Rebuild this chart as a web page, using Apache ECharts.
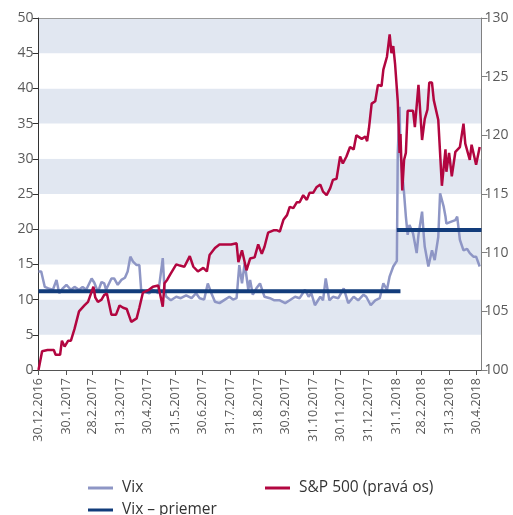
<!DOCTYPE html>
<html>
<head>
<meta charset="utf-8">
<script src="https://cdn.jsdelivr.net/npm/echarts@6/dist/echarts.min.js"></script>
<style>
  html, body { margin: 0; padding: 0; background: #fff; }
  #chart { width: 513px; height: 515px; }
</style>
</head>
<body>
<div id="chart"></div>
<script>
// month-end dates shown on the x axis
var tickDates = ['2016-12-30', '2017-01-30', '2017-02-28', '2017-03-31', '2017-04-30', '2017-05-31',
  '2017-06-30', '2017-07-31', '2017-08-31', '2017-09-30', '2017-10-31', '2017-11-30', '2017-12-31',
  '2018-01-31', '2018-02-28', '2018-03-31', '2018-04-30'];

// Vix (left axis)
var vixDates = ['2016-12-30', '2017-01-02', '2017-01-06', '2017-01-10', '2017-01-15', '2017-01-19', '2017-01-22',
  '2017-01-26', '2017-01-30', '2017-02-04', '2017-02-08', '2017-02-13', '2017-02-17', '2017-02-21', '2017-02-27',
  '2017-03-02', '2017-03-06', '2017-03-10', '2017-03-13', '2017-03-15', '2017-03-21', '2017-03-24', '2017-03-28',
  '2017-04-01', '2017-04-05', '2017-04-08', '2017-04-11', '2017-04-14', '2017-04-18', '2017-04-21', '2017-04-23',
  '2017-04-27', '2017-05-02', '2017-05-06', '2017-05-12', '2017-05-17', '2017-05-19', '2017-05-21', '2017-05-26',
  '2017-06-01', '2017-06-06', '2017-06-12', '2017-06-18', '2017-06-23', '2017-06-27', '2017-07-02', '2017-07-06',
  '2017-07-10', '2017-07-14', '2017-07-19', '2017-07-25', '2017-07-30', '2017-08-03', '2017-08-07', '2017-08-10',
  '2017-08-13', '2017-08-16', '2017-08-20', '2017-08-22', '2017-08-25', '2017-08-29', '2017-09-02', '2017-09-07',
  '2017-09-13', '2017-09-18', '2017-09-24', '2017-09-30', '2017-10-05', '2017-10-11', '2017-10-16', '2017-10-22',
  '2017-10-26', '2017-10-29', '2017-11-02', '2017-11-08', '2017-11-11', '2017-11-14', '2017-11-18', '2017-11-22',
  '2017-11-28', '2017-12-04', '2017-12-09', '2017-12-15', '2017-12-20', '2017-12-26', '2017-12-29', '2018-01-03',
  '2018-01-08', '2018-01-13', '2018-01-17', '2018-01-21', '2018-01-24', '2018-01-28', '2018-02-01', '2018-02-02',
  '2018-02-04', '2018-02-05', '2018-02-07', '2018-02-09', '2018-02-11', '2018-02-13', '2018-02-15', '2018-02-19',
  '2018-02-23', '2018-02-25', '2018-03-01', '2018-03-03', '2018-03-04', '2018-03-08', '2018-03-12', '2018-03-15',
  '2018-03-19', '2018-03-21', '2018-03-25', '2018-03-27', '2018-03-28', '2018-04-01', '2018-04-07', '2018-04-09',
  '2018-04-12', '2018-04-16', '2018-04-20', '2018-04-23', '2018-04-27', '2018-04-30', '2018-05-04'];
var vixValues = [14.0, 14.0, 11.8, 11.6, 11.4, 12.8, 10.9,
  11.6, 12.1, 11.4, 11.8, 11.4, 11.8, 11.4, 13.0,
  12.4, 11.1, 12.5, 12.3, 11.4, 13.0, 13.0, 12.1,
  12.8, 13.1, 14.0, 16.1, 15.4, 14.9, 14.9, 11.4,
  11.1, 10.9, 11.4, 10.9, 15.9, 11.3, 10.4, 9.9,
  10.4, 10.2, 10.6, 10.2, 10.9, 10.2, 10.0, 12.3,
  10.9, 9.7, 9.5, 10.0, 10.4, 10.0, 10.2, 14.9,
  12.3, 15.2, 11.4, 12.8, 10.7, 11.6, 12.3, 10.4,
  10.2, 9.9, 9.9, 9.5, 9.9, 10.4, 10.2, 11.4,
  10.4, 10.9, 9.2, 10.4, 9.9, 13.0, 9.9, 10.4,
  10.2, 11.6, 9.5, 10.4, 9.9, 10.7, 10.4, 9.2,
  9.9, 10.2, 12.3, 11.4, 13.3, 14.7, 15.5, 30.8,
  37.4, 30.8, 27.9, 25.1, 21.8, 19.2, 20.6, 19.4,
  16.6, 19.2, 22.5, 18.9, 17.5, 14.7, 17.0, 15.6,
  18.9, 25.1, 23.2, 21.8, 20.8, 21.0, 21.3, 21.8,
  18.5, 17.0, 17.2, 16.6, 16.1, 16.1, 14.7];

// S&P 500 (right axis)
var spDates = ['2016-12-30', '2017-01-03', '2017-01-09', '2017-01-16', '2017-01-18', '2017-01-23', '2017-01-25',
  '2017-01-28', '2017-02-01', '2017-02-04', '2017-02-08', '2017-02-13', '2017-02-19', '2017-02-23', '2017-02-25',
  '2017-03-01', '2017-03-03', '2017-03-06', '2017-03-10', '2017-03-13', '2017-03-16', '2017-03-21', '2017-03-26',
  '2017-03-30', '2017-04-03', '2017-04-07', '2017-04-12', '2017-04-18', '2017-04-21', '2017-04-25', '2017-05-01',
  '2017-05-06', '2017-05-12', '2017-05-17', '2017-05-19', '2017-05-22', '2017-05-25', '2017-06-01', '2017-06-05',
  '2017-06-10', '2017-06-16', '2017-06-20', '2017-06-25', '2017-07-01', '2017-07-05', '2017-07-08', '2017-07-14',
  '2017-07-19', '2017-07-27', '2017-08-01', '2017-08-07', '2017-08-09', '2017-08-13', '2017-08-18', '2017-08-22',
  '2017-08-27', '2017-08-31', '2017-09-04', '2017-09-07', '2017-09-11', '2017-09-17', '2017-09-21', '2017-09-24',
  '2017-09-28', '2017-10-02', '2017-10-05', '2017-10-09', '2017-10-13', '2017-10-16', '2017-10-20', '2017-10-24',
  '2017-10-27', '2017-10-31', '2017-11-04', '2017-11-08', '2017-11-11', '2017-11-15', '2017-11-19', '2017-11-22',
  '2017-11-26', '2017-11-30', '2017-12-03', '2017-12-07', '2017-12-11', '2017-12-15', '2017-12-18', '2017-12-24',
  '2017-12-28', '2017-12-30', '2018-01-01', '2018-01-04', '2018-01-08', '2018-01-11', '2018-01-15', '2018-01-17',
  '2018-01-21', '2018-01-24', '2018-01-26', '2018-01-28', '2018-01-30', '2018-02-02', '2018-02-04', '2018-02-05',
  '2018-02-07', '2018-02-09', '2018-02-11', '2018-02-13', '2018-02-19', '2018-02-21', '2018-02-25', '2018-03-01',
  '2018-03-04', '2018-03-07', '2018-03-09', '2018-03-12', '2018-03-14', '2018-03-16', '2018-03-19', '2018-03-23',
  '2018-03-27', '2018-03-28', '2018-03-31', '2018-04-03', '2018-04-07', '2018-04-09', '2018-04-12', '2018-04-14',
  '2018-04-16', '2018-04-18', '2018-04-20', '2018-04-23', '2018-04-25', '2018-04-27', '2018-04-30', '2018-05-04'];
var spValues = [100.0, 101.6, 101.7, 101.7, 101.3, 101.3, 102.5,
  102.0, 102.5, 102.5, 103.5, 105.0, 105.5, 105.8, 105.8,
  107.1, 106.2, 105.8, 106.0, 106.4, 106.5, 104.7, 104.7,
  105.5, 105.3, 105.2, 104.1, 104.4, 105.3, 106.6, 106.8,
  107.1, 107.2, 105.4, 107.4, 107.7, 108.1, 109.0, 108.9,
  108.8, 109.7, 108.8, 108.4, 108.7, 108.4, 109.8, 110.4,
  110.7, 110.7, 110.7, 110.8, 109.2, 110.2, 108.5, 109.5,
  109.6, 110.7, 109.9, 110.5, 111.7, 111.9, 111.9, 111.8,
  112.8, 113.2, 113.9, 113.8, 114.3, 114.3, 114.9, 114.5,
  115.1, 115.1, 115.6, 115.8, 115.2, 114.9, 115.5, 116.2,
  116.3, 118.2, 117.6, 118.2, 119.0, 118.8, 120.0, 119.7,
  119.9, 119.5, 120.6, 122.7, 122.9, 124.3, 124.2, 125.6,
  126.7, 128.6, 127.0, 127.6, 126.1, 122.9, 118.5, 120.1,
  115.3, 117.9, 118.5, 122.1, 122.1, 120.7, 124.3, 119.6,
  121.4, 122.2, 124.5, 124.5, 123.0, 123.0, 121.3, 115.7,
  118.8, 116.9, 118.5, 116.5, 118.6, 118.6, 119.0, 119.0,
  121.0, 119.3, 119.3, 117.9, 119.2, 119.2, 117.5, 119.0];

// Vix average for the two periods (null splits the segments)
var avgDates = ['2016-12-30', '2018-02-05', '2018-02-05', '2018-02-01', '2018-05-06'];
var avgValues = [11.2, 11.2, null, 19.9, 19.9];

function toTime(s) {
  var p = s.split('-');
  return new Date(+p[0], +p[1] - 1, +p[2]).getTime();
}
function pairs(dates, values) {
  return dates.map(function (d, i) {
    return [toTime(d), values[i] == null ? '-' : values[i]];
  });
}

var FONT = 'Open Sans';
var tickTimes = tickDates.map(toTime);
var topLine = [];
for (var i = 0; i < 10; i++) topLine.push('rgba(0,0,0,0)');
topLine.push('#9a9a9a');

var chart = echarts.init(document.getElementById('chart'));
var legendBase = {
  orient: 'horizontal',
  padding: 0,
  itemWidth: 25,
  itemHeight: 3,
  icon: 'rect',
  textStyle: { fontFamily: FONT, fontSize: 15.5, color: '#333', padding: [0, 0, 0, 4], lineHeight: 20 }
};

chart.setOption({
  animation: false,
  backgroundColor: '#fff',
  grid: { left: 38.5, right: 31.5, top: 18, bottom: 145 },
  legend: [
    Object.assign({ data: ['Vix'], left: 88, top: 478 }, legendBase),
    Object.assign({ data: ['S&P 500 (pravá os)'], left: 265, top: 478 }, legendBase),
    Object.assign({ data: ['Vix – priemer'], left: 88, top: 500 }, legendBase)
  ],
  xAxis: {
    type: 'value',
    min: toTime('2016-12-30'),
    max: toTime('2018-05-06'),
    axisLine: { lineStyle: { color: '#555', width: 1 } },
    axisTick: { show: true, length: 5, customValues: tickTimes, lineStyle: { color: '#555' } },
    splitLine: { show: false },
    axisLabel: {
      customValues: tickTimes,
      rotate: 90,
      margin: 8,
      fontFamily: FONT,
      fontSize: 12.5,
      color: '#5a5a5a',
      formatter: function (v) {
        var d = new Date(v);
        return d.getDate() + '.' + (d.getMonth() + 1) + '.' + d.getFullYear();
      }
    }
  },
  yAxis: [
    {
      type: 'value',
      min: 0,
      max: 50,
      interval: 5,
      axisLine: { show: true, lineStyle: { color: '#333' } },
      axisTick: { show: true, length: 6, lineStyle: { color: '#333' } },
      axisLabel: { fontFamily: FONT, fontSize: 14, color: '#5a5a5a', margin: 5 },
      splitLine: { show: true, lineStyle: { color: topLine, width: 1 } },
      splitArea: { show: true, areaStyle: { color: ['#ffffff', '#e1e7f1'] } }
    },
    {
      type: 'value',
      min: 100,
      max: 130,
      interval: 5,
      position: 'right',
      axisLine: { show: true, lineStyle: { color: '#808080' } },
      axisTick: { show: true, length: 6, lineStyle: { color: '#808080' } },
      axisLabel: { fontFamily: FONT, fontSize: 14, color: '#5a5a5a', margin: 3 },
      splitLine: { show: false }
    }
  ],
  series: [
    {
      name: 'Vix',
      type: 'line',
      yAxisIndex: 0,
      showSymbol: false,
      symbol: 'none',
      color: '#8e96c5',
      lineStyle: { width: 2.5, color: '#8e96c5' },
      data: pairs(vixDates, vixValues),
      z: 2
    },
    {
      name: 'Vix – priemer',
      type: 'line',
      yAxisIndex: 0,
      showSymbol: false,
      symbol: 'none',
      connectNulls: false,
      color: '#123c7b',
      lineStyle: { width: 4, color: '#123c7b' },
      data: pairs(avgDates, avgValues),
      z: 3
    },
    {
      name: 'S&P 500 (pravá os)',
      type: 'line',
      yAxisIndex: 1,
      showSymbol: false,
      symbol: 'none',
      color: '#b20640',
      lineStyle: { width: 2.5, color: '#b20640' },
      data: pairs(spDates, spValues),
      z: 4
    }
  ]
});
</script>
</body>
</html>
